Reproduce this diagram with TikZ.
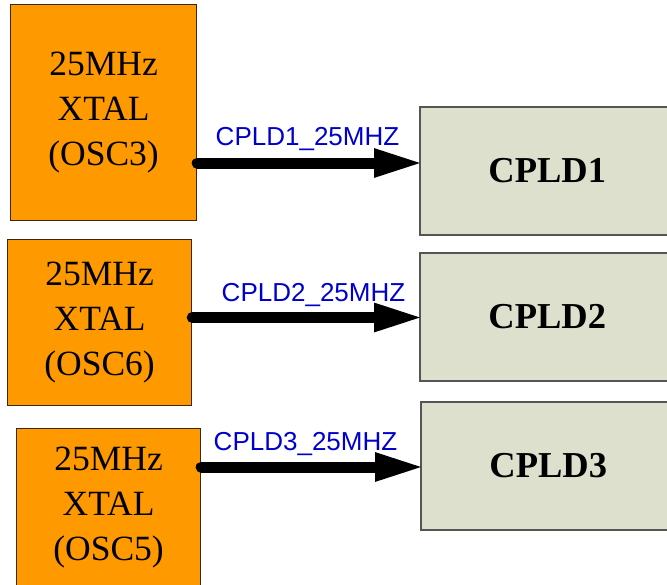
\documentclass[tikz,border=0pt]{standalone}
\usepackage{fontspec}
\setmainfont{Liberation Serif}
\newfontfamily\labelfont{Liberation Sans}
\usetikzlibrary{arrows.meta}

\definecolor{xtalorange}{RGB}{255,153,0}
\definecolor{xtalborder}{RGB}{60,40,15}
\definecolor{cpldfill}{RGB}{221,224,204}
\definecolor{cpldborder}{RGB}{85,85,85}
\definecolor{netblue}{RGB}{0,0,204}

\tikzset{
  xtal/.style={draw=xtalborder, line width=1.2pt, fill=xtalorange,
    rectangle, inner sep=0pt, anchor=north west, align=center,
    font=\fontsize{35.5}{45}\selectfont},
  cpld/.style={draw=cpldborder, line width=1.5pt, fill=cpldfill,
    rectangle, inner sep=0pt, anchor=north west,
    minimum width=255pt, minimum height=128pt,
    font=\fontsize{36.5}{40}\selectfont\bfseries},
  clkwire/.style={line width=11pt, line cap=round, shorten >=-5pt,
    -{Triangle[length=50pt,width=26pt]}},
  netlabel/.style={anchor=base, text=netblue, inner sep=0pt,
    font=\labelfont\fontsize{26}{30}\selectfont},
}

\begin{document}
\begin{tikzpicture}[x=1pt,y=-1pt]
  \useasboundingbox (0,0) rectangle (667,584);
  \clip (0,0) rectangle (667,584);

  % crystal oscillators
  \node[xtal, minimum width=186pt, minimum height=216pt] (osc3) at (10,4)
    {25MHz\\XTAL\\(OSC3)};
  \node[xtal, minimum width=184pt, minimum height=166pt] (osc6) at (7,239)
    {25MHz\\XTAL\\(OSC6)};
  \node[xtal, minimum width=184pt, minimum height=157pt] (osc5) at (16,428)
    {25MHz\\XTAL\\(OSC5)};

  % CPLD blocks
  \node[cpld] (cpld1) at (419,106) {CPLD1};
  \node[cpld] (cpld2) at (419,252) {CPLD2};
  \node[cpld] (cpld3) at (420,401) {CPLD3};

  % clock levels
  \coordinate (y1) at (0,163);
  \coordinate (y2) at (0,317.5);
  \coordinate (y3) at (0,467);

  % clock nets
  \draw[clkwire] (osc3.east |- y1) -- (cpld1.west |- y1);
  \draw[clkwire] (osc6.east |- y2) -- (cpld2.west |- y2);
  \draw[clkwire] (osc5.east |- y3) -- (cpld3.west |- y3);

  % net names
  \node[netlabel] (net1) at (307.5,145) {CPLD1\_25MHZ};
  \node[netlabel] (net2) at (313.5,301) {CPLD2\_25MHZ};
  \node[netlabel] (net3) at (305.5,450) {CPLD3\_25MHZ};
\end{tikzpicture}
\end{document}
